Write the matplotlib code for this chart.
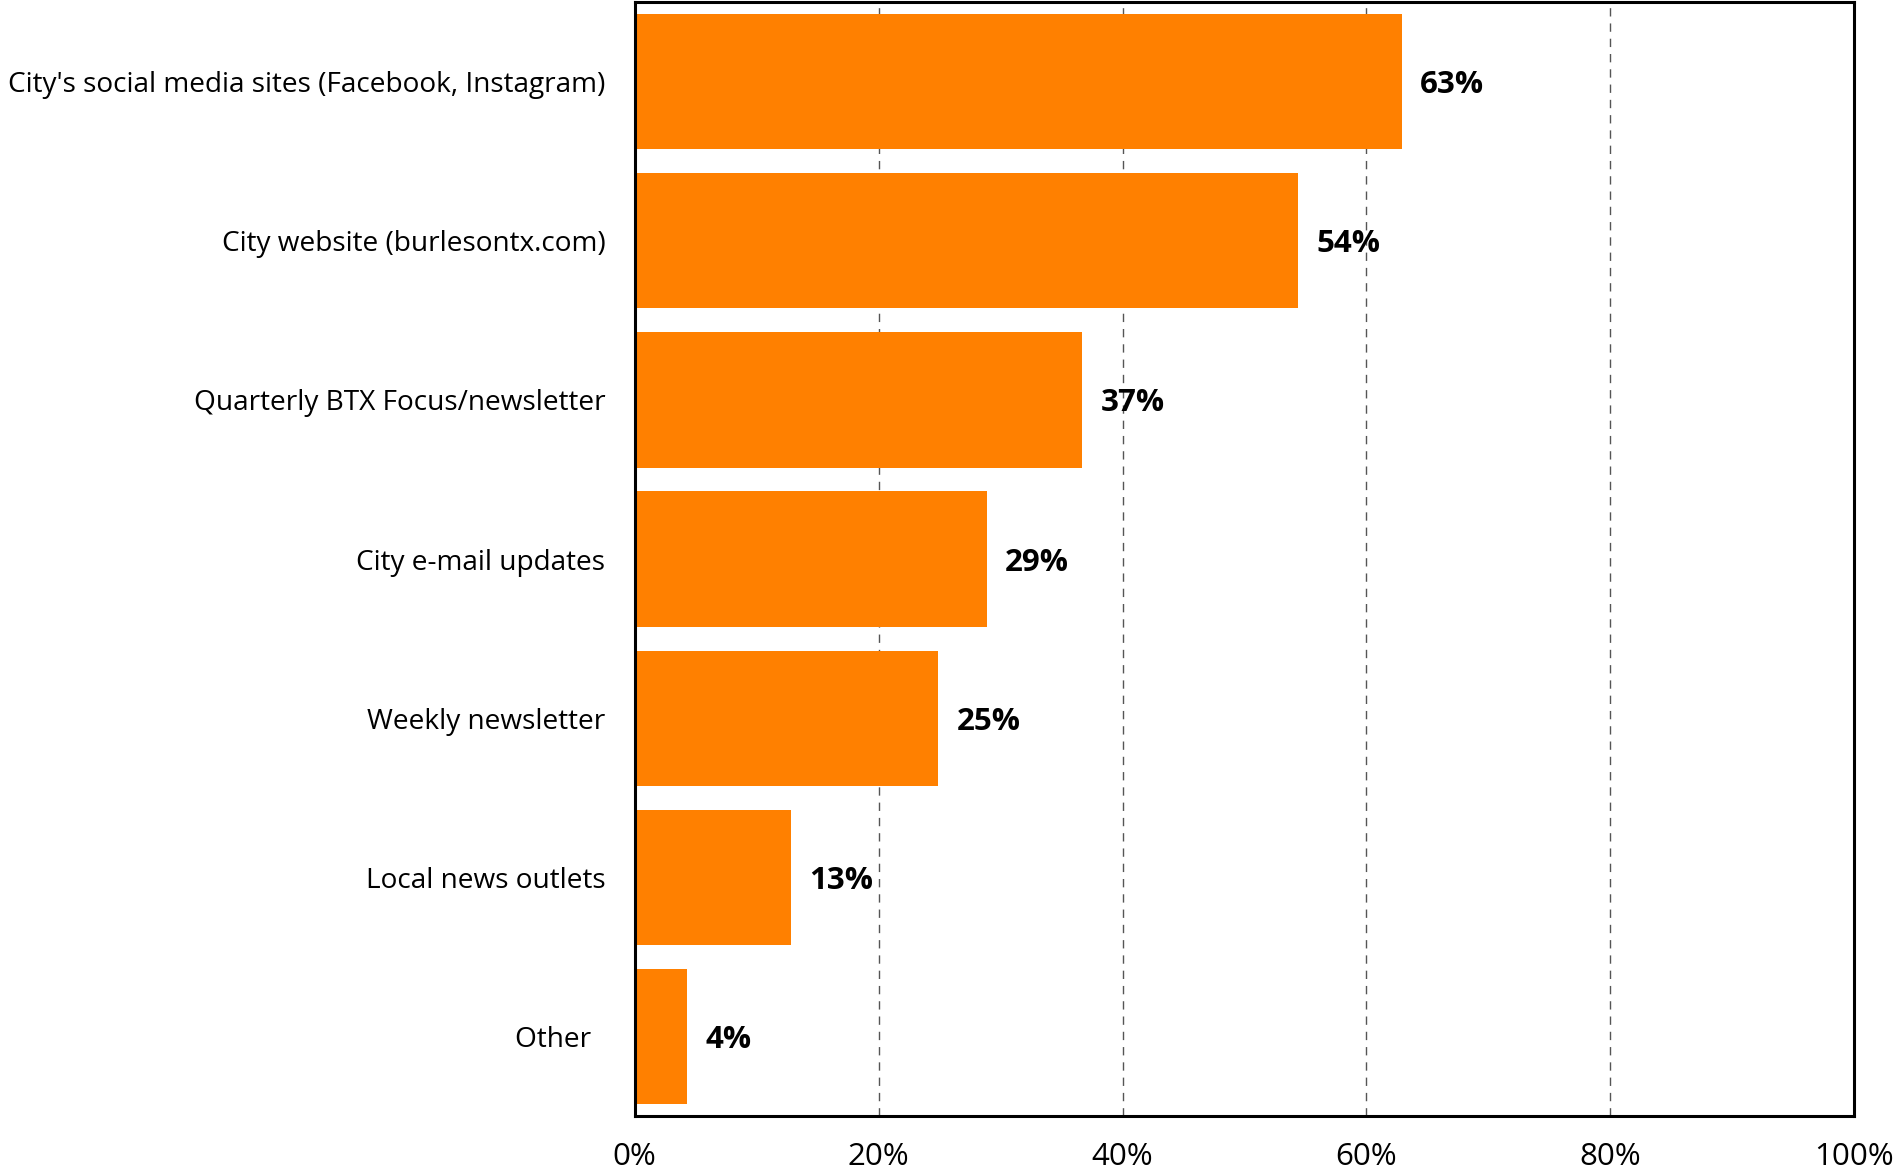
import matplotlib
matplotlib.use("Agg")
import matplotlib.pyplot as plt
from matplotlib.ticker import PercentFormatter

categories = [
    "City's social media sites (Facebook, Instagram)",
    "City website (burlesontx.com)",
    "Quarterly BTX Focus/newsletter",
    "City e-mail updates",
    "Weekly newsletter",
    "Local news outlets",
    "Other  ",
]
values = [62.9, 54.4, 36.7, 28.9, 24.9, 12.8, 4.3]
value_labels = ["63%", "54%", "37%", "29%", "25%", "13%", "4%"]
xticks = [0, 20, 40, 60, 80, 100]

plt.rcParams['font.family'] = ['Open Sans', 'DejaVu Sans']

fig = plt.figure(figsize=(19, 11.75), dpi=100)
ax = fig.add_axes([0.334, 0.0502, 0.642, 0.948])

y = list(range(len(categories)))
ax.barh(y, values, height=0.85, color='#FF8000', zorder=2)
ax.set_ylim(len(categories) - 0.5, -0.5)
ax.set_xlim(0, 100)
ax.set_yticks(y)
ax.set_yticklabels(categories, fontsize=20.2)
for t in ax.get_yticklabels():
    t.set_verticalalignment('center_baseline')
ax.set_xticks(xticks)
ax.xaxis.set_major_formatter(PercentFormatter(decimals=0))
ax.tick_params(axis='x', length=0, pad=18.5, labelsize=22.5)
ax.tick_params(axis='y', length=0, pad=21)

ax.grid(axis='x', linestyle=(0, (6, 5)), color='#555555', linewidth=1.0, zorder=1)
ax.set_axisbelow(True)
for s in ax.spines.values():
    s.set_linewidth(2.2)
    s.set_color('black')

for yi, v, lab in zip(y, values, value_labels):
    ax.annotate(lab, (v, yi), xytext=(13, -2.5), textcoords='offset points',
                va='center', ha='left', fontsize=22.5, fontweight='bold')

fig.savefig("out.png", dpi=100)
